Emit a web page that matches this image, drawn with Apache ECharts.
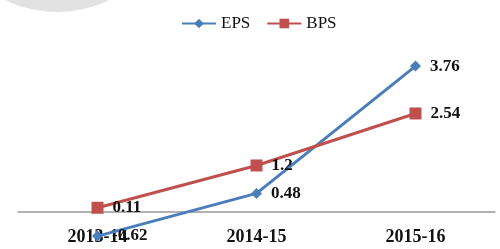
<!DOCTYPE html>
<html>
<head>
<meta charset="utf-8">
<script src="https://cdn.jsdelivr.net/npm/echarts@6/dist/echarts.min.js"></script>
<style>
  html, body { margin: 0; padding: 0; background: #fff; }
  #chart { width: 500px; height: 249px; }
</style>
</head>
<body>
<div id="chart"></div>
<script>
const years = ['2013-14', '2014-15', '2015-16']
const eps = [-0.62, 0.48, 3.76]
const bps = [0.11, 1.2, 2.54]

const chart = echarts.init(document.getElementById('chart'))

const labelFont = {
  fontFamily: 'Liberation Serif',
  fontWeight: 'bold',
  fontSize: 17,
  color: '#111'
}

const option = {
  animation: false,
  graphic: [
    {
      type: 'circle',
      shape: { cx: 57, cy: -107, r: 119 },
      style: { fill: '#e2e2e2' },
      silent: true
    }
  ],
  legend: {
    top: 10,
    left: 176,
    itemWidth: 34,
    itemHeight: 12,
    itemGap: 16,
    textStyle: { fontFamily: 'Liberation Serif', fontSize: 17, color: '#111' },
    data: ['EPS', 'BPS']
  },
  grid: {
    left: 18,
    right: 5,
    top: 56.8,
    bottom: 9.8,
    containLabel: false,
    outerBoundsMode: 'none'
  },
  xAxis: {
    type: 'category',
    data: years,
    axisLine: { onZero: true, lineStyle: { color: '#999', width: 1.5 } },
    axisTick: { show: false },
    // labels sit at the grid bottom, pull them up to the reference row
    axisLabel: { ...labelFont, fontSize: 18, margin: -11 }
  },
  yAxis: {
    type: 'value',
    min: -0.7,
    max: 4,
    show: false,
    splitLine: { show: false }
  },
  series: [
    {
      name: 'EPS',
      type: 'line',
      data: eps,
      symbol: 'diamond',
      symbolSize: 11,
      lineStyle: { width: 3, color: '#4a7ebb' },
      itemStyle: { color: '#4a7ebb' },
      label: {
        show: true,
        position: 'right',
        distance: 9,
        ...labelFont
      }
    },
    {
      name: 'BPS',
      type: 'line',
      data: bps,
      symbol: 'rect',
      symbolSize: 12,
      lineStyle: { width: 3, color: '#c0504d' },
      itemStyle: { color: '#c0504d' },
      label: {
        show: true,
        position: 'right',
        distance: 9,
        ...labelFont
      }
    }
  ]
}

chart.setOption(option)
</script>
</body>
</html>
